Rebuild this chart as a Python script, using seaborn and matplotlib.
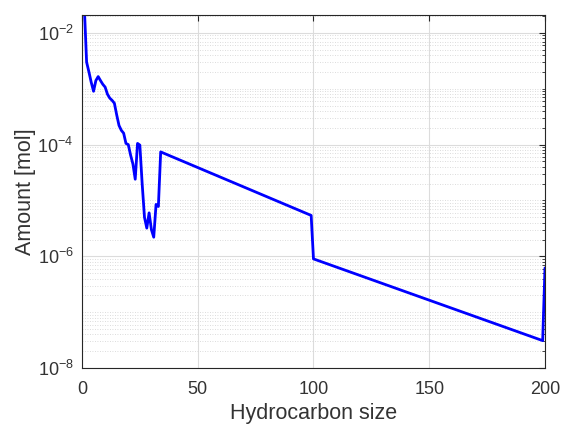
import matplotlib
matplotlib.use("Agg")
import matplotlib.pyplot as plt
import matplotlib.ticker as mticker
import seaborn as sns
import pandas as pd
import numpy as np

# Hydrocarbon size (carbon number) and amount [mol]
carbon_number = [1, 2, 3, 4, 5, 6, 7, 8, 9, 10,
                 11, 12, 13, 14, 15, 16, 17, 18, 19, 20,
                 21, 22, 23, 24, 25, 26, 27, 28, 29, 30,
                 31, 32, 33, 34, 99, 100, 199, 200]
amount_mol = [3.0e-2, 3.0e-3, 2.0e-3, 1.3e-3, 9.0e-4, 1.4e-3, 1.65e-3, 1.4e-3, 1.2e-3, 1.07e-3,
              8.0e-4, 6.8e-4, 6.2e-4, 5.5e-4, 3.4e-4, 2.2e-4, 1.8e-4, 1.6e-4, 1.05e-4, 1.0e-4,
              6.5e-5, 4.5e-5, 2.4e-5, 1.05e-4, 9.8e-5, 2.0e-5, 5.0e-6, 3.2e-6, 6.0e-6, 3.0e-6,
              2.2e-6, 8.5e-6, 7.8e-6, 7.4e-5, 5.4e-6, 9.0e-7, 3.1e-8, 6.2e-7]

x_ticks = [0, 50, 100, 150, 200]
y_ticks = [1e-8, 1e-6, 1e-4, 1e-2]
y_tick_labels = [r"$10^{-8}$", r"$10^{-6}$", r"$10^{-4}$", r"$10^{-2}$"]

df = pd.DataFrame({"Hydrocarbon size": carbon_number, "Amount [mol]": amount_mol})

sns.set_style("white")
plt.rcParams["font.family"] = ["Liberation Sans", "DejaVu Sans"]
plt.rcParams["mathtext.fontset"] = "custom"
plt.rcParams["mathtext.rm"] = "Liberation Sans"
plt.rcParams["mathtext.it"] = "Liberation Sans"

text_color = "#333333"

fig = plt.figure(figsize=(5.63, 4.28), dpi=100)
ax = fig.add_axes([0.1456, 0.140, 0.8224, 0.825])

sns.lineplot(data=df, x="Hydrocarbon size", y="Amount [mol]", ax=ax,
             color="#0000ff", linewidth=2.0, sort=False)

ax.set_yscale("log")
ax.set_xlim(0, 200)
ax.set_ylim(1e-8, 10 ** -1.68)

ax.set_xticks(x_ticks)
ax.set_yticks(y_ticks)
ax.set_yticklabels(y_tick_labels)
ax.yaxis.set_minor_locator(mticker.LogLocator(base=10, subs=np.arange(1, 10), numticks=50))
ax.yaxis.set_minor_formatter(mticker.NullFormatter())

ax.grid(True, which="major", color="#dcdcdc", linewidth=0.8, linestyle="-")
ax.grid(True, which="minor", axis="y", color="#d0d0d0", linewidth=0.6, linestyle=(0, (1, 2)))
ax.set_axisbelow(True)

for s in ax.spines.values():
    s.set_visible(True)
    s.set_color("#262626")
    s.set_linewidth(0.8)

ax.tick_params(axis="both", which="both", direction="in", top=True, right=True,
               colors="#262626", labelcolor=text_color, labelsize=13)
ax.tick_params(axis="x", which="major", length=4, pad=9)
ax.tick_params(axis="y", which="major", length=4, pad=6)
ax.tick_params(which="minor", length=2)

ax.set_xlabel("Hydrocarbon size", fontsize=15.5, color=text_color, labelpad=4)
ax.set_ylabel("Amount [mol]", fontsize=15.5, color=text_color, labelpad=1)

fig.savefig("out.png", dpi=100)
